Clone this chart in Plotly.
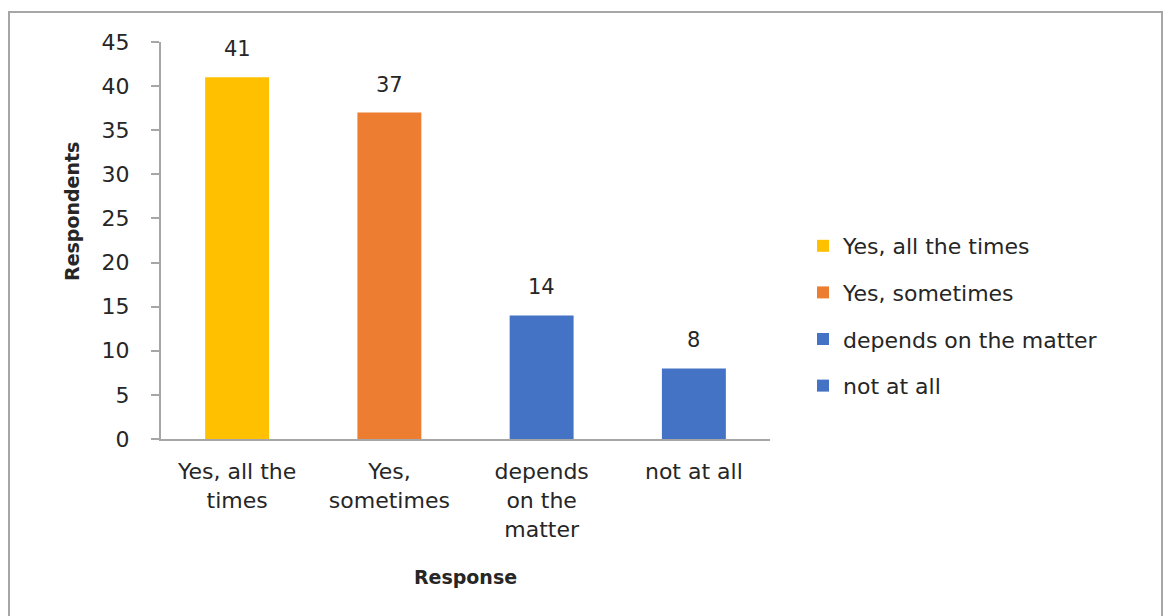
import plotly.graph_objects as go

# Survey responses
categories = ["Yes, all the times", "Yes, sometimes", "depends on the matter", "not at all"]
tick_labels = ["Yes, all the<br>times", "Yes,<br>sometimes", "depends<br>on the<br>matter", "not at all"]
respondents = [41, 37, 14, 8]
bar_colors = ["#FFC000", "#ED7D31", "#4472C4", "#4472C4"]

FONT = "DejaVu Sans"
TEXT_COLOR = "#262626"
AXIS_COLOR = "#A6A6A6"

fig = go.Figure()
for i, (cat, val, col) in enumerate(zip(categories, respondents, bar_colors)):
    fig.add_trace(go.Bar(
        x=[tick_labels[i]], y=[val], name=cat,
        marker=dict(color=col, line=dict(width=0)),
        width=0.42, legendgroup=f"g{i}",
    ))
    fig.add_annotation(
        x=tick_labels[i], y=val, text=str(val), showarrow=False,
        yanchor="bottom", yshift=14,
        font=dict(family=FONT, size=21, color=TEXT_COLOR),
    )

# vertical axis title
fig.add_annotation(
    xref="paper", yref="paper", x=(72 - 161) / 609, y=(439 - 212) / 397,
    text="<b>Respondents</b>", textangle=-90, showarrow=False,
    xanchor="center", yanchor="middle",
    font=dict(family=FONT, size=19, color=TEXT_COLOR),
)

# outer chart frame
fig.add_shape(
    type="rect", xref="paper", yref="paper",
    x0=(9 - 161) / 609, x1=(1162 - 161) / 609,
    y0=(439 - 640) / 397, y1=(439 - 12) / 397,
    line=dict(color=AXIS_COLOR, width=2), fillcolor="rgba(0,0,0,0)", layer="below",
)

fig.update_layout(
    width=1163, height=616,
    margin=dict(l=161, r=393, t=42, b=177, autoexpand=False),
    paper_bgcolor="white", plot_bgcolor="white",
    barmode="overlay",
    font=dict(family=FONT, size=22, color=TEXT_COLOR),
    showlegend=True,
    legend=dict(
        x=(803 - 161) / 609, xanchor="left",
        y=(439 - 316) / 397, yanchor="middle",
        traceorder="grouped", tracegroupgap=15,
        font=dict(family=FONT, size=22, color=TEXT_COLOR),
        bgcolor="rgba(0,0,0,0)",
    ),
    xaxis=dict(
        categoryorder="array", categoryarray=tick_labels,
        showline=True, linecolor=AXIS_COLOR, linewidth=2,
        ticks="", ticklabelstandoff=12,
        tickfont=dict(family=FONT, size=22, color=TEXT_COLOR),
        title=dict(text="<b>Response</b>", standoff=30,
                   font=dict(family=FONT, size=19, color=TEXT_COLOR)),
        showgrid=False, zeroline=False,
    ),
    yaxis=dict(
        range=[0, 45], dtick=5, tick0=0,
        showline=True, linecolor=AXIS_COLOR, linewidth=2,
        ticks="outside", ticklen=8, tickcolor=AXIS_COLOR, tickwidth=2,
        ticklabelstandoff=17,
        tickfont=dict(family=FONT, size=22, color=TEXT_COLOR),
        showgrid=False, zeroline=False,
    ),
)

fig.write_html("out.html")
